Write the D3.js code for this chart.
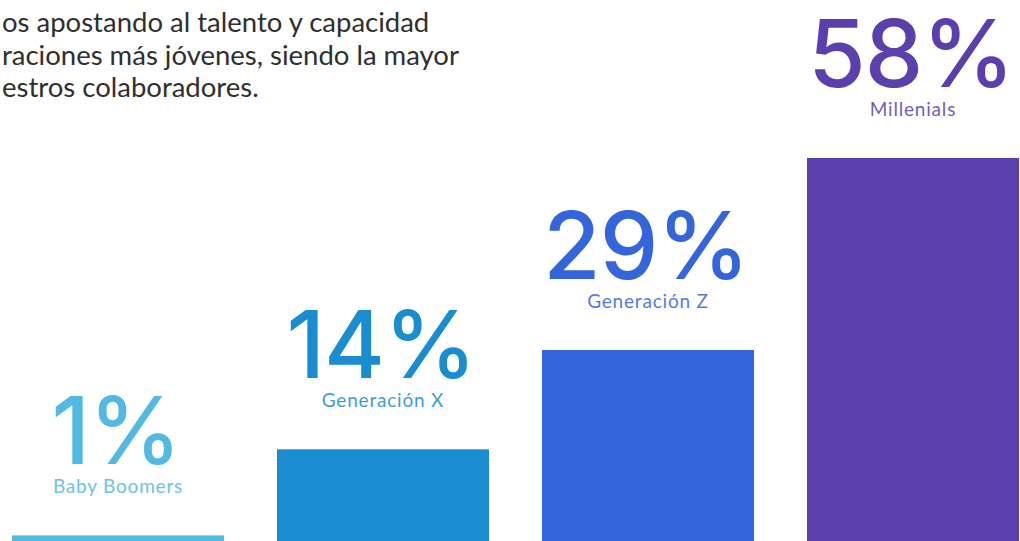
<!DOCTYPE html>
<html><head><meta charset="utf-8">
<script src="https://cdn.jsdelivr.net/npm/d3@7"></script>
<style>html,body{margin:0;padding:0;background:#fff;overflow:hidden}</style>
</head><body>
<svg id="c" width="1020" height="541"></svg>
<script>
const categories = ["Baby Boomers", "Generación X", "Generación Z", "Millenials"];
const values = [1, 14, 29, 58];
const valueLabels = ["1%", "14%", "29%", "58%"];
const colors = ["#52B9E2", "#1A8DD0", "#3565DB", "#5B3FAD"];
const introLines = ["os apostando al talento y capacidad", "raciones más jóvenes, siendo la mayor", "estros colaboradores."];

const svg = d3.select("#c");
const x = d3.scaleBand().domain(categories).range([12, 1019]).paddingInner(0.2).paddingOuter(0);
const y = d3.scaleLinear().domain([0, 58]).range([542, 158]);

svg.selectAll("text.intro").data(introLines).join("text")
  .attr("class", "intro")
  .attr("x", 2).attr("y", (d, i) => 32 + i * 32.5)
  .attr("font-family", "Lato, sans-serif").attr("font-size", 27.5)
  .attr("fill", "#2f2f2f").text(d => d);

const g = svg.selectAll("g.bar").data(categories).join("g").attr("class", "bar");
g.append("rect")
  .attr("x", d => x(d)).attr("width", x.bandwidth())
  .attr("y", (d, i) => y(values[i])).attr("height", (d, i) => y(0) - y(values[i]))
  .attr("fill", (d, i) => colors[i]);
g.append("text")
  .attr("x", d => x(d) + x.bandwidth() / 2 - 2)
  .attr("y", (d, i) => y(values[i]) - 71)
  .attr("text-anchor", "middle")
  .attr("font-family", "Inter, sans-serif").attr("font-weight", 500)
  .attr("font-size", 93).attr("letter-spacing", -1)
  .attr("fill", (d, i) => colors[i]).text((d, i) => valueLabels[i]);
g.append("text")
  .attr("x", d => x(d) + x.bandwidth() / 2)
  .attr("y", (d, i) => y(values[i]) - 42)
  .attr("text-anchor", "middle")
  .attr("font-family", "Lato, sans-serif")
  .attr("font-size", 19).attr("letter-spacing", 0.8)
  .attr("fill", (d, i) => colors[i]).attr("opacity", 0.85).text(d => d);
</script>
</body></html>
